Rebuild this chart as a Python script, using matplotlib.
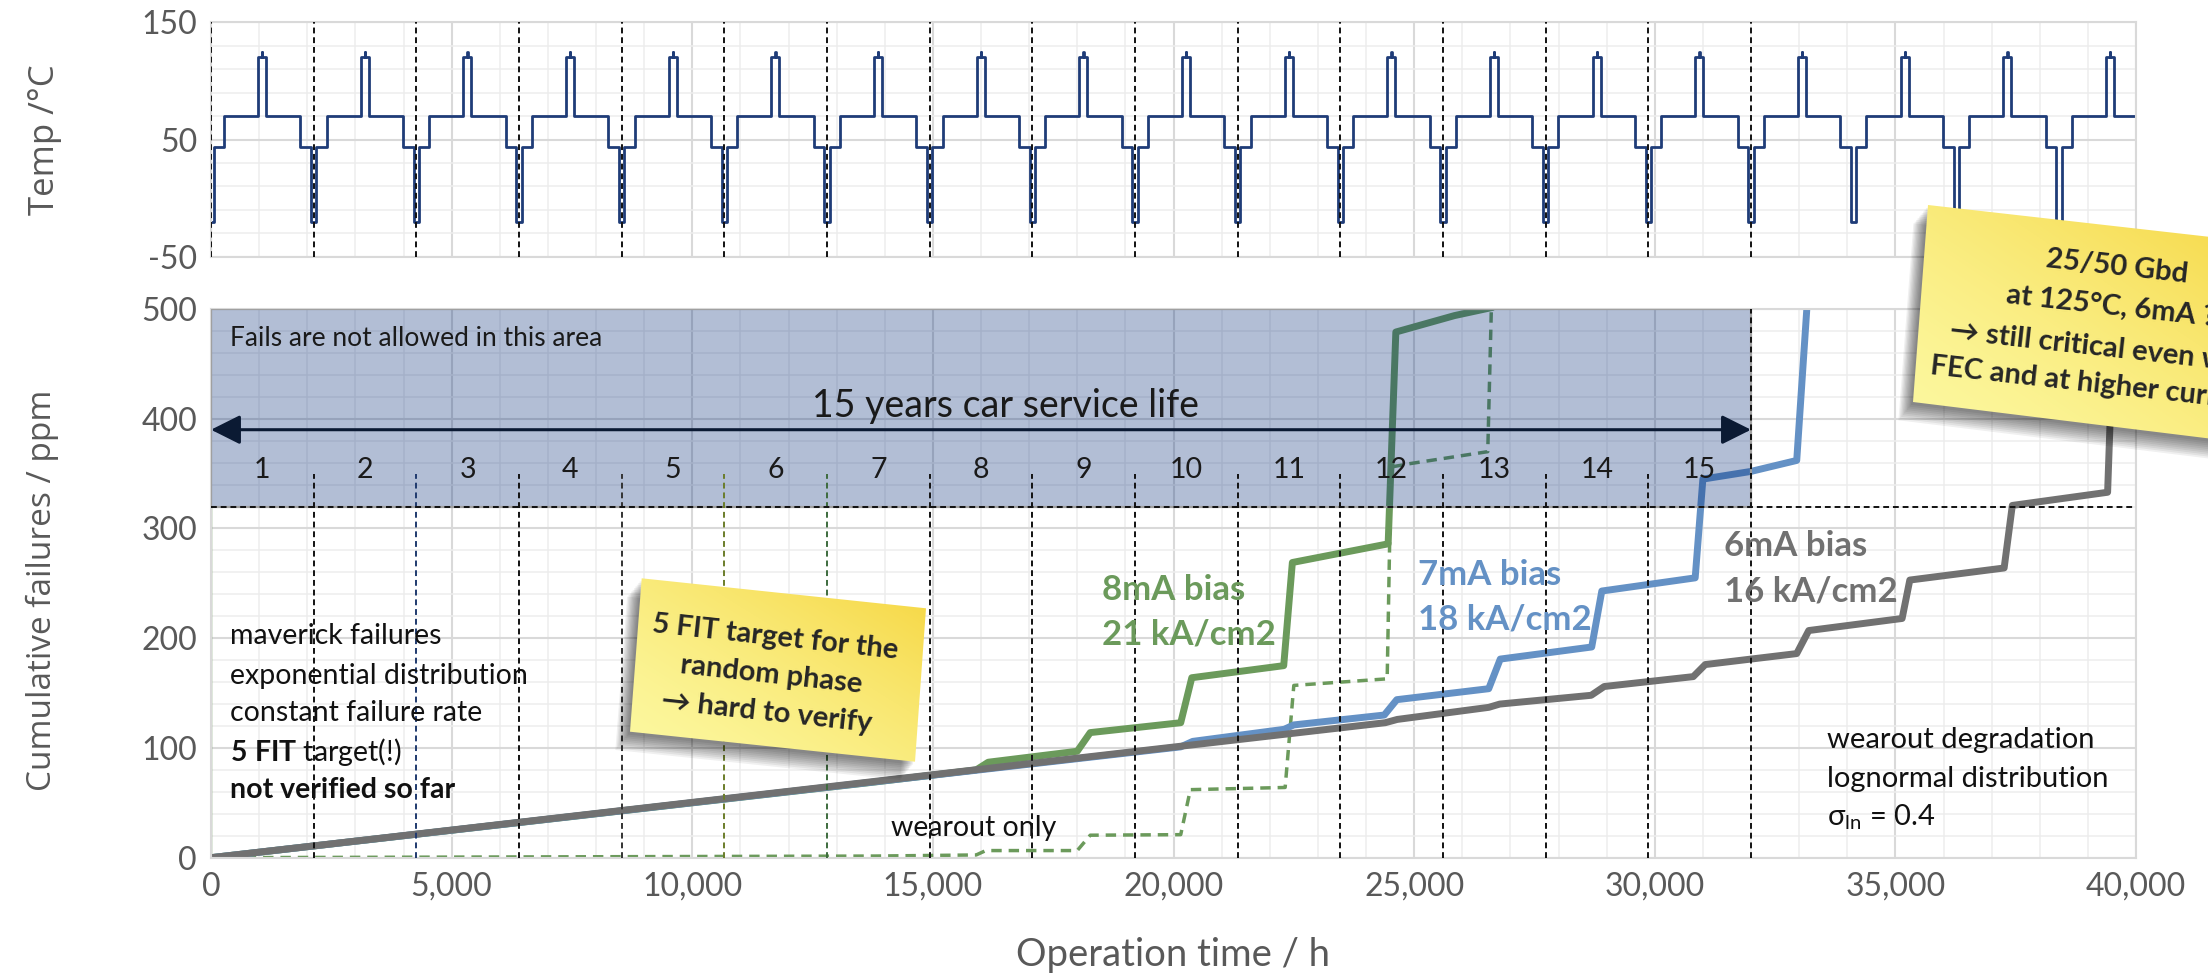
import numpy as np
import matplotlib
matplotlib.use('Agg')
import matplotlib.pyplot as plt
from matplotlib.patches import Polygon, Rectangle
from matplotlib.ticker import FixedLocator, FuncFormatter

# ---------------- data ----------------
period_h = 2133.3
n_cycles = 19
cycle_offsets_h = [0, 53, 267, 977, 1062, 1070, 1145, 1856, 2080]
cycle_levels_C = [-20, 44, 70, 120, 125, 120, 70, 44, -20]
x_end_h = 40000

# 6mA bias, 16 kA/cm2 (gray)
gray_t = [0, 24400, 24650, 26550, 26780, 28680, 28950, 30800, 31050, 32950, 33200,
          35140, 35300, 37260, 37430, 39410, 39560]
gray_ppm = [0, 123, 126, 137, 140, 148, 156, 165, 176, 186, 207, 218, 253, 264, 321, 333, 520]

# 7mA bias, 18 kA/cm2 (blue)
blue_t = [0, 20150, 20400, 22300, 22500, 24380, 24640, 26550, 26790, 28690, 28900,
          30840, 31000, 32000, 32950, 33190]
blue_ppm = [0, 101, 106, 117, 121, 130, 144, 154, 181, 192, 243, 255, 345, 352, 362, 520]

# 8mA bias, 21 kA/cm2 (green solid)
green_t = [0, 13800, 15900, 16150, 18000, 18270, 20150, 20380, 22290, 22470, 24460,
           24620, 25840, 26580]
green_ppm = [0, 69, 80, 87, 97, 114, 123, 164, 175, 269, 286, 479, 494, 501]

# wearout only (green dashed)
wear_t = [0, 13800, 15900, 16100, 18000, 18270, 20150, 20350, 22320, 22500, 24440,
          24520, 24900, 26530, 26610]
wear_ppm = [0, 1.5, 2.5, 6.5, 6.5, 20.5, 21, 62, 64, 157, 163, 356, 359, 370, 510]

year_labels = [str(k) for k in range(1, 16)]
year_line_colors = ['#111111', '#1f3a6e', '#111111', '#333333', '#6b7d2a', '#3d6b3d',
                    '#111111', '#111111', '#111111', '#111111', '#111111', '#111111',
                    '#111111', '#111111', '#111111']
x_ticks = [0, 5000, 10000, 15000, 20000, 25000, 30000, 35000, 40000]
y_ticks_bot = [0, 100, 200, 300, 400, 500]
y_ticks_top = [-50, 50, 150]
limit_ppm = 320
service_years = 15

note1_lines = ['5 FIT target for the', 'random phase', '→ hard to verify']
note2_lines = ['25/50 Gbd', 'at 125°C, 6mA ?', '→ still critical even with',
               'FEC and at higher current']

# ---------------- style ----------------
plt.rcParams['font.family'] = ['Lato', 'DejaVu Sans']
plt.rcParams['mathtext.fontset'] = 'custom'
plt.rcParams['mathtext.rm'] = 'Lato'
plt.rcParams['mathtext.bf'] = 'Lato:bold'
plt.rcParams['mathtext.it'] = 'Lato:italic'
plt.rcParams['axes.unicode_minus'] = False

W, H = 2208, 974
fig = plt.figure(figsize=(W / 100, H / 100), dpi=100)

L, R = 211, 2136
ax_top = fig.add_axes([L / W, 1 - 256.7 / H, (R - L) / W, (256.7 - 22.3) / H])
ax = fig.add_axes([L / W, 1 - 857.7 / H, (R - L) / W, (857.7 - 309) / H])

tick_col = '#595959'
for a in (ax_top, ax):
    a.set_xlim(0, x_end_h)
    a.set_axisbelow(True)
    a.xaxis.set_major_locator(FixedLocator(x_ticks))
    a.xaxis.set_minor_locator(FixedLocator(np.arange(0, 40001, 1000)))
    a.grid(which='major', color='#d9d9d9', lw=1.5)
    a.grid(which='minor', color='#ededed', lw=1.1)
    a.tick_params(which='both', length=0, labelsize=23, labelcolor=tick_col, pad=10)
    for s in a.spines.values():
        s.set_color('#d9d9d9')
        s.set_linewidth(1.5)

# ---- top panel: temperature profile ----
ax_top.set_ylim(-50, 150)
ax_top.yaxis.set_major_locator(FixedLocator(y_ticks_top))
ax_top.yaxis.set_minor_locator(FixedLocator(np.arange(-50, 151, 20)))
ax_top.tick_params(labelbottom=False)
temp_t, temp_v = [], []
for k in range(n_cycles):
    for off, lev in zip(cycle_offsets_h, cycle_levels_C):
        t = k * period_h + off
        if t < x_end_h:
            temp_t.append(t)
            temp_v.append(lev)
temp_t.append(x_end_h)
temp_v.append(temp_v[-1])
ax_top.step(temp_t, temp_v, where='post', color='#1f3c78', lw=2.0, zorder=2)
for k in range(service_years + 1):
    ax_top.plot([k * period_h] * 2, [-50, 150], color='#111111', lw=1.4,
                dashes=(3.0, 2.0), zorder=3)

# ---- bottom panel ----
ax.set_ylim(0, 500)
ax.yaxis.set_major_locator(FixedLocator(y_ticks_bot))
ax.yaxis.set_minor_locator(FixedLocator(np.arange(0, 501, 20)))
ax.xaxis.set_major_formatter(FuncFormatter(lambda v, p: f'{int(v):,}'))

green = '#6b9a5b'
blue = '#6491c5'
gray = '#717171'
ax.plot([0, 0], [0, limit_ppm], color=green, lw=1.0, zorder=2)
ax.plot(wear_t, wear_ppm, color=green, lw=2.5, dashes=(3.0, 2.0), zorder=2)
ax.plot(green_t, green_ppm, color=green, lw=5.0, solid_joinstyle='round', zorder=2.1)
ax.plot(blue_t, blue_ppm, color=blue, lw=5.0, solid_joinstyle='round', zorder=2.2)
ax.plot(gray_t, gray_ppm, color=gray, lw=5.0, solid_joinstyle='round', zorder=2.3)

# forbidden area
service_h = service_years * period_h
ax.add_patch(Rectangle((0, limit_ppm), service_h, 500 - limit_ppm, facecolor='#002977',
                       alpha=0.3, edgecolor='none', zorder=3))
ax.add_patch(Rectangle((0, limit_ppm), service_h, 500 - limit_ppm, facecolor='none',
                       edgecolor='#a0a0a0', lw=1.6, zorder=3.1))

for k in range(1, service_years + 1):
    top = 500 if k == service_years else 350
    ax.plot([k * period_h] * 2, [0, top], color=year_line_colors[k - 1], lw=1.4,
            dashes=(3.0, 2.0), zorder=4)
ax.plot([0, x_end_h], [limit_ppm, limit_ppm], color='#111111', lw=1.4, dashes=(3.0, 2.0), zorder=4)

for k, lab in enumerate(year_labels, start=1):
    ax.text((k - 0.5) * period_h, 353, lab, ha='center', va='center', fontsize=20.5,
            color='#1a1a1a', zorder=5)

ax.annotate('', xy=(0, 390), xytext=(service_h, 390),
            arrowprops=dict(arrowstyle='<|-|>', color='#0b1a33', lw=2.2,
                            mutation_scale=45, shrinkA=0, shrinkB=0), zorder=5)
ax.text(16500, 412, '15 years car service life', ha='center', va='center', fontsize=27,
        color='#1a1a1a', zorder=5)
ax.text(395, 473, 'Fails are not allowed in this area', ha='left', va='center', fontsize=19,
        color='#1a1a1a', zorder=5)

# left annotation block
blk = ['maverick failures', 'exponential distribution', 'constant failure rate',
       r'$\mathbf{5\ FIT}$ target(!)', 'not verified so far']
blk_y = [202, 166, 132, 96, 62]
for s, yy in zip(blk, blk_y):
    ax.text(395, yy, s, ha='left', va='center', fontsize=20.5, color='#111111',
            fontweight='bold' if s.startswith('not') else 'normal', zorder=5)

ax.text(15855, 27, 'wearout only', ha='center', va='center', fontsize=20.5, color='#111111', zorder=5)
for s, yy in zip(['wearout degradation', 'lognormal distribution', r'$\mathrm{σ}_{\mathrm{ln}}$ = 0.4'],
                 [107, 72, 37]):
    ax.text(33570, yy, s, ha='left', va='center', fontsize=21, color='#111111', zorder=5)

for (tx, t1, t2, y1, y2, col) in [(18516, '8mA bias', '21 kA/cm2', 244, 203, green),
                                   (25082, '7mA bias', '18 kA/cm2', 258, 217, blue),
                                   (31440, '6mA bias', '16 kA/cm2', 284, 243, gray)]:
    ax.text(tx, y1, t1, ha='left', va='center', fontsize=25, fontweight='bold', color=col, zorder=5)
    ax.text(tx, y2, t2, ha='left', va='center', fontsize=25, fontweight='bold', color=col, zorder=5)

# axis titles
fig.text(42 / W, 1 - 590 / H, 'Cumulative failures / ppm', rotation=90, ha='center', va='center',
         fontsize=24, color=tick_col, family=['Open Sans', 'DejaVu Sans'])
fig.text(45 / W, 1 - 140 / H, 'Temp /°C', rotation=90, ha='center', va='center',
         fontsize=25, color=tick_col, family=['Open Sans', 'DejaVu Sans'])
fig.text((L + R) / 2 / W, 1 - 955 / H, 'Operation time / h', ha='center', va='center',
         fontsize=27.5, color=tick_col)

# ---- sticky notes (figure pixel overlay) ----
ov = fig.add_axes([0, 0, 1, 1], zorder=10)
ov.set_xlim(0, W)
ov.set_ylim(H, 0)
ov.axis('off')
ov.patch.set_alpha(0)

pale = np.array([252, 248, 160]) / 255
sat = np.array([246, 214, 64]) / 255


def draw_note(corners):
    poly = np.array(corners, dtype=float)
    for i in range(10):
        off = np.array([-2 - i * 1.4, 3 + i * 1.7])
        ov.add_patch(Polygon(poly + off, closed=True, fc='black', ec='none', alpha=0.06, zorder=1))
    patch = Polygon(poly, closed=True, fc='none', ec='none', zorder=2)
    ov.add_patch(patch)
    xmin, ymin = poly.min(0)
    xmax, ymax = poly.max(0)
    X, Y = np.meshgrid(np.linspace(0, 1, 80), np.linspace(0, 1, 80))
    s = np.clip((X + (1 - Y)) / 2, 0, 1) ** 1.4
    img = pale[None, None, :] * (1 - s[..., None]) + sat[None, None, :] * s[..., None]
    im = ov.imshow(img, extent=(xmin, xmax, ymax, ymin), origin='upper', zorder=2,
                   interpolation='bilinear', aspect='auto')
    im.set_clip_path(patch)


def note_text(x, y, s, rot, ha):
    ov.text(x, y, s, rotation=rot, rotation_mode='anchor', ha=ha, va='center',
            fontsize=21, fontweight='bold', color='#262626', zorder=4)


draw_note([(641.7, 578.3), (926, 608.3), (915, 761.7), (630, 731.7)])
for (x, y), s in zip([(775, 637), (771, 675), (767, 713)], note1_lines):
    note_text(x, y, s, -6.2, 'center')

draw_note([(1928, 205), (2270, 243.7), (2262, 445), (1913, 402)])
for (x, y), s in zip([(2046, 259), (2006, 295), (1950, 331), (1930, 366)], note2_lines):
    note_text(x, y, s, -6.3, 'left')

ov.set_xlim(0, W)
ov.set_ylim(H, 0)

fig.savefig('out.png', dpi=100)
